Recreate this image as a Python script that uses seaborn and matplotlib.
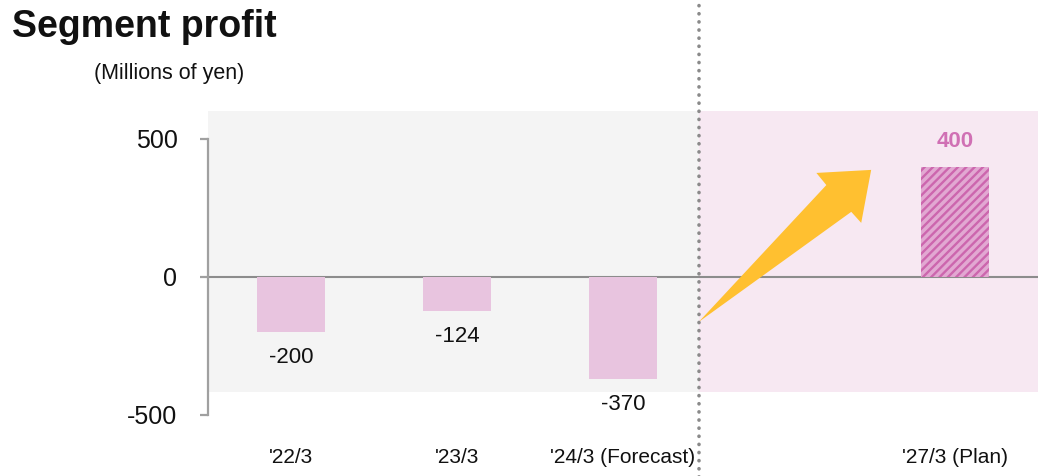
import matplotlib
matplotlib.use("Agg")
import matplotlib.pyplot as plt
from matplotlib.patches import Polygon
import seaborn as sns
import pandas as pd

# Fiscal periods and segment profit (millions of yen)
periods = ["'22/3", "'23/3", "'24/3 (Forecast)", "'27/3 (Plan)"]
profit = [-200, -124, -370, 400]
axis_order = ["'22/3", "'23/3", "'24/3 (Forecast)", "", "'27/3 (Plan)"]
y_ticks = [-500, 0, 500]

sns.set_theme(style="white")
plt.rcParams["font.family"] = ["Liberation Sans", "DejaVu Sans"]
plt.rcParams["hatch.linewidth"] = 1.7

BAR = "#E8C4DF"
PLAN_FACE = "#E2A8D2"
PLAN_HATCH = "#CC66AE"
PLAN_TEXT = "#D070B4"
GREY_PANEL = "#F4F4F4"
PINK_PANEL = "#F7E8F2"
ARROW = "#FFC030"

fig = plt.figure(figsize=(10.38, 4.76), dpi=100)
ax = fig.add_axes([0.2004, 0.0992, 0.7996, 0.6958])

df = pd.DataFrame({"period": periods, "profit": profit})
sns.barplot(data=df, x="period", y="profit", order=axis_order, color=BAR,
            saturation=1, width=0.41, linewidth=0, ax=ax, zorder=3)

ax.set_xlim(-0.5, 4.5)
ax.set_ylim(-550, 650)

# Background panels: actuals/forecast vs. plan
split = 2.456
ax.fill_between([-0.5, split], -417, 601, color=GREY_PANEL, lw=0, zorder=0)
ax.fill_between([split, 4.5], -417, 601, color=PINK_PANEL, lw=0, zorder=0)

# Plan bar: hatched
for bar in ax.patches:
    if bar.get_height() > 0:
        bar.set_facecolor(PLAN_FACE)
        bar.set_edgecolor(PLAN_HATCH)
        bar.set_hatch("////")
        bar.set_linewidth(0)

# Zero line
ax.axhline(0, color="#8C8C8C", lw=1.5, zorder=2)

# Value labels
for p, v in zip(periods, profit):
    xpos = axis_order.index(p)
    if v < 0:
        ax.annotate(f"{v}", (xpos, v), xytext=(0, -18), textcoords="offset points",
                    ha="center", va="center", fontsize=16, color="#111111", zorder=5)
    else:
        ax.annotate(f"{v}", (xpos, v), xytext=(0, 18), textcoords="offset points",
                    ha="center", va="center", fontsize=16, fontweight="bold",
                    color=PLAN_TEXT, zorder=5)

# Growth arrow toward the plan
arrow_pts = [(2.456, -163), (3.225, 333), (3.165, 377), (3.495, 388),
             (3.435, 196), (3.375, 236)]
ax.add_patch(Polygon(arrow_pts, closed=True, facecolor=ARROW, edgecolor="none",
                     zorder=4))

# Dotted divider spanning the full figure height
ax.axvline(split, ymin=-0.2, ymax=1.5, color="#8A8A8A", lw=2.6,
           linestyle=(0, (0.05, 2.2)), dash_capstyle="round", clip_on=False,
           zorder=6)

# Axes styling
for side in ["top", "right", "bottom"]:
    ax.spines[side].set_visible(False)
ax.spines["left"].set_bounds(-500, 500)
ax.spines["left"].set_color("#A0A0A0")
ax.spines["left"].set_linewidth(1.6)
ax.set_yticks(y_ticks)
ax.set_yticklabels([str(t) for t in y_ticks])
ax.tick_params(axis="y", left=True, length=6, width=1.6, color="#A0A0A0",
               pad=16, labelsize=18, labelcolor="#111111")
ax.set_xticks(range(len(axis_order)))
ax.set_xticklabels(axis_order)
ax.tick_params(axis="x", bottom=False, length=0, pad=14, labelsize=15,
               labelcolor="#111111")
ax.set_xlabel("")
ax.set_ylabel("")
ax.set_facecolor("white")
fig.patch.set_facecolor("white")

fig.text(0.012, 0.944, "Segment profit", fontsize=27, fontweight="bold",
         ha="left", va="center", color="#111111")
fig.text(0.091, 0.845, "(Millions of yen)", fontsize=15.5, ha="left",
         va="center", color="#111111")

fig.savefig("out.png", dpi=100)
